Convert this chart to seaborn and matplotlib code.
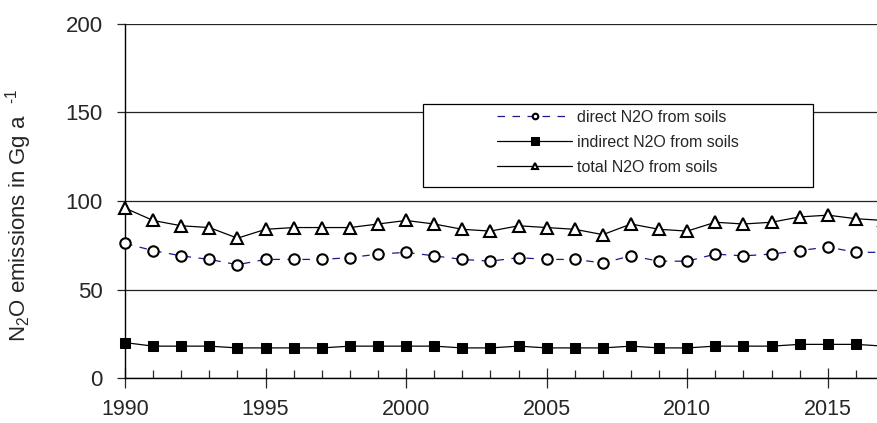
import numpy as np
import pandas as pd
import matplotlib
matplotlib.use("Agg")
import matplotlib.pyplot as plt
import matplotlib.patches as mpatches
from matplotlib.ticker import MultipleLocator
import seaborn as sns

years = list(range(1990, 2018))
direct = [76, 72, 69, 67, 64, 67, 67, 67, 68, 70, 71, 69, 67, 66, 68, 67,
          67, 65, 69, 66, 66, 70, 69, 70, 72, 74, 71, 71]
indirect = [20, 18, 18, 18, 17, 17, 17, 17, 18, 18, 18, 18, 17, 17, 18, 17,
            17, 17, 18, 17, 17, 18, 18, 18, 19, 19, 19, 18]
total = [96, 89, 86, 85, 79, 84, 85, 85, 85, 87, 89, 87, 84, 83, 86, 85,
         84, 81, 87, 84, 83, 88, 87, 88, 91, 92, 90, 89]
labels = ["direct N2O from soils", "indirect N2O from soils",
          "total N2O from soils"]

df = pd.DataFrame({"year": years, "direct": direct,
                   "indirect": indirect, "total": total})

sns.set_style("white")
plt.rcParams["font.family"] = ["Liberation Sans", "DejaVu Sans"]
plt.rcParams["mathtext.fontset"] = "custom"
plt.rcParams["mathtext.rm"] = "Liberation Sans"
plt.rcParams["mathtext.it"] = "Liberation Sans"

W, H = 877, 423
fig = plt.figure(figsize=(W / 100, H / 100), dpi=100)
ax = fig.add_axes([125 / W, 1 - 378 / H, 752 / W, 354 / H])

sns.lineplot(data=df, x="year", y="direct", ax=ax, color="#1a1a8c",
             linestyle=(0, (6, 6)), linewidth=0.9, marker="o", markersize=7.5,
             markerfacecolor="white", markeredgecolor="black",
             markeredgewidth=1.5, label=labels[0], zorder=4)
sns.lineplot(data=df, x="year", y="indirect", ax=ax, color="black",
             linewidth=0.9, marker="s", markersize=7, markerfacecolor="black",
             markeredgecolor="black", label=labels[1], zorder=4)
sns.lineplot(data=df, x="year", y="total", ax=ax, color="black",
             linewidth=0.9, marker="^", markersize=8.5,
             markerfacecolor="white", markeredgecolor="black",
             markeredgewidth=1.5, label=labels[2], zorder=4)
for ln in ax.get_lines():
    ln.set_clip_on(False)

ax.set_xlim(1990, 2016.75)
ax.set_ylim(0, 200)
ax.set_yticks([0, 50, 100, 150, 200])
ax.xaxis.set_major_locator(MultipleLocator(5))
ax.xaxis.set_minor_locator(MultipleLocator(1))
ax.yaxis.grid(True, color="#222222", linewidth=0.9)
ax.set_axisbelow(True)

for s in ["top", "right"]:
    ax.spines[s].set_visible(False)
for s in ["left", "bottom"]:
    ax.spines[s].set_color("black")
    ax.spines[s].set_linewidth(1.0)

ax.tick_params(axis="y", which="major", direction="out", length=6,
               width=0.9, left=True, labelsize=16, pad=10)
ax.tick_params(axis="x", which="major", direction="inout", length=14,
               width=0.9, bottom=True, labelsize=15.5, pad=8)
ax.tick_params(axis="x", which="minor", direction="in", length=6,
               width=0.9, bottom=True)

ax.set_xlabel("")
ax.set_ylabel("N$_2$O emissions in Gg a  $^{\\text{-1}}$", fontsize=16)
ax.yaxis.set_label_coords((34 - 125) / 752, 0.46)

# legend frame (wider on the left than the entries, like the original)
frame = mpatches.Rectangle((423 / W, 1 - 187 / H), 390 / W, 83 / H,
                           transform=fig.transFigure, facecolor="white",
                           edgecolor="black", linewidth=0.9, zorder=5,
                           clip_on=False)
ax.add_patch(frame)

leg = ax.legend(loc="upper left", bbox_to_anchor=(497 / W, 1 - 110 / H),
                bbox_transform=fig.transFigure, fontsize=11.5,
                handlelength=4.7, frameon=False, borderpad=0,
                labelspacing=0.62, handletextpad=0.3, borderaxespad=0)
leg.set_zorder(6)
for h, ms in zip(leg.legend_handles, [4, 5.5, 4.5]):
    h.set_markersize(ms)

fig.savefig("out.png", dpi=100)
